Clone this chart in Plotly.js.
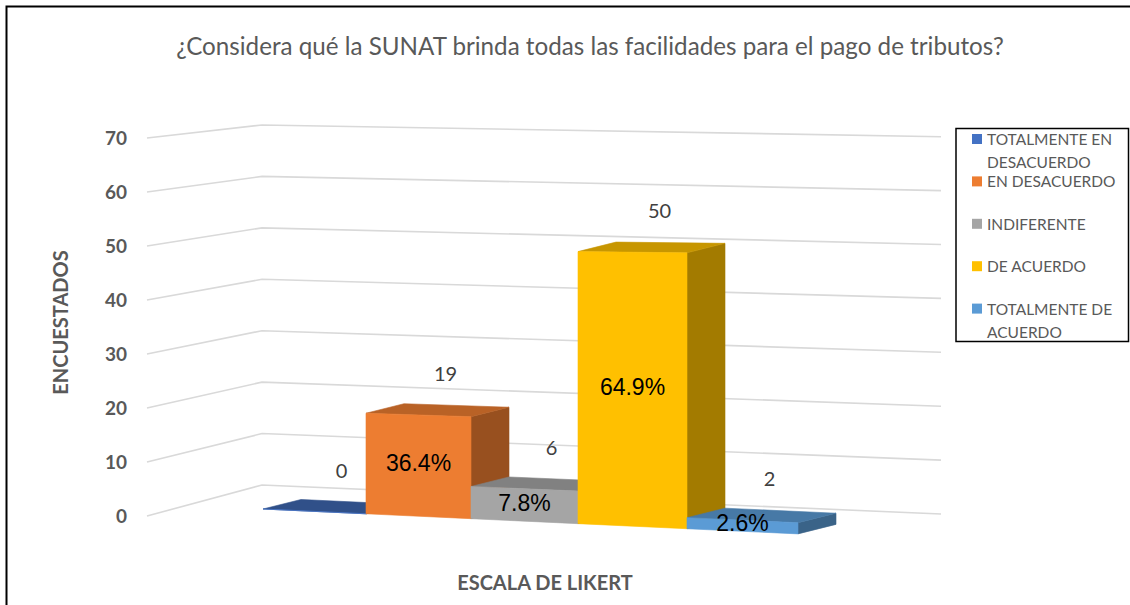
<!DOCTYPE html>
<html>
<head>
<meta charset="utf-8">
<script src="https://cdn.plot.ly/plotly-3.0.1.min.js"></script>
<style>html,body{margin:0;padding:0;background:#fff;}#chart{width:1130px;height:605px;}</style>
</head>
<body>
<div id="chart"></div>
<script>
// ---------------- data ----------------
const chartTitle = '¿Considera qué la SUNAT brinda todas las facilidades para el pago de tributos?';
const categories = ['TOTALMENTE EN DESACUERDO', 'EN DESACUERDO', 'INDIFERENTE', 'DE ACUERDO', 'TOTALMENTE DE ACUERDO'];
const counts = [0, 19, 6, 50, 2];
const percentLabels = ['', '36.4%', '7.8%', '64.9%', '2.6%'];
const yTickValues = [0, 10, 20, 30, 40, 50, 60, 70];
const xTitle = 'ESCALA DE LIKERT';
const yTitle = 'ENCUESTADOS';
const colors = ['#4472C4', '#ED7D31', '#A5A5A5', '#FFC000', '#5B9BD5'];

// ---------------- layout geometry (pixels) ----------------
const W = 1130, H = 605;
const L = 128, R = 962, T = 100, B = 545;
const PXU = 5.396;          // pixels per value unit on the left wall
const ZERO_PX = 516.3;      // pixel row of value 0 on the axis
const yMax = (ZERO_PX - T) / PXU;
const yMin = yMax - (B - T) / PXU;
function toVal(p) { return (ZERO_PX - p) / PXU; }
function fx(x) { return (x - L) / (R - L); }
function fy(y) { return (B - y) / (B - T); }

// oblique 3D projection of the bars
const FX0 = 263, FW = 103, FQ = 1.0, DX = 38, DYPX = 9.5;
function edgeX(u) { return FX0 + FW * u + FQ * u * (u - 1); }
function basePx(x) { return 509 + 0.0465 * (x - 263); }
function scalePx(x) { return 5.33 + (x - 419) * 0.0007; }
function pt(u, v, d) {
  const x0 = edgeX(u);
  const p = basePx(x0) - v * scalePx(x0);
  return [x0 + DX * d, toVal(p - DYPX * d)];
}
function shade(hex, f) {
  const n = parseInt(hex.slice(1), 16);
  const r = Math.round(((n >> 16) & 255) * f), g = Math.round(((n >> 8) & 255) * f), b = Math.round((n & 255) * f);
  return 'rgb(' + r + ',' + g + ',' + b + ')';
}
function poly(points, color) {
  const xs = points.map(p => p[0]); const ys = points.map(p => p[1]);
  xs.push(xs[0]); ys.push(ys[0]);
  return { type: 'scatter', mode: 'lines', x: xs, y: ys, fill: 'toself', fillcolor: color,
           line: { color: color, width: 0.6 }, hoverinfo: 'skip', showlegend: false };
}

const traces = [];

// back / side wall gridlines
const gx = [], gy = [];
yTickValues.forEach(v => {
  gx.push(147, 262, 941, null);
  gy.push(toVal(516 - 5.4 * v), toVal(485 - 5.143 * v), toVal(514 - 5.39 * v), null);
});
traces.push({ type: 'scatter', mode: 'lines', x: gx, y: gy, line: { color: '#D9D9D9', width: 1.6 },
              hoverinfo: 'skip', showlegend: false, connectgaps: false });

// bars (left to right so nearer faces overlap)
counts.forEach((v, i) => {
  const c = colors[i];
  traces.push(poly([pt(i + 1, 0, 0), pt(i + 1, 0, 1), pt(i + 1, v, 1), pt(i + 1, v, 0)], shade(c, 0.64)));
  traces.push(poly([pt(i, v, 0), pt(i + 1, v, 0), pt(i + 1, v, 1), pt(i, v, 1)], shade(c, v === 0 ? 0.7 : 0.78)));
  traces.push(poly([pt(i, 0, 0), pt(i + 1, 0, 0), pt(i + 1, v, 0), pt(i, v, 0)], c));
});

// value labels (counts) above the top faces
const lx = [], ly = [], lt = [];
counts.forEach((v, i) => {
  const q = [pt(i, v, 0), pt(i + 1, v, 0), pt(i + 1, v, 1), pt(i, v, 1)];
  lx.push(q.reduce((s, p) => s + p[0], 0) / 4 + 8);
  ly.push(q.reduce((s, p) => s + p[1], 0) / 4 + 34 / PXU);
  lt.push(String(v));
});
traces.push({ type: 'scatter', mode: 'text', x: lx, y: ly, text: lt, textposition: 'middle center',
              textfont: { family: 'Lato, sans-serif', size: 20, color: '#404040' }, hoverinfo: 'skip', showlegend: false });

// percentage labels in the front faces
const px = [], py = [], ptx = [];
counts.forEach((v, i) => {
  if (!percentLabels[i]) return;
  const a = pt(i, 0, 0), b = pt(i + 1, v, 0), c2 = pt(i + 1, 0, 0), d = pt(i, v, 0);
  px.push((a[0] + b[0] + c2[0] + d[0]) / 4);
  py.push((a[1] + b[1] + c2[1] + d[1]) / 4);
  ptx.push(percentLabels[i]);
});
traces.push({ type: 'scatter', mode: 'text', x: px, y: py, text: ptx, textposition: 'middle center',
              textfont: { family: 'Liberation Sans, Arial, sans-serif', size: 23, color: '#000000' }, hoverinfo: 'skip', showlegend: false });

// ---------------- legend (manual) ----------------
function wrap(s, n) {
  const words = s.split(' '); const lines = []; let cur = '';
  words.forEach(w => { if (cur && (cur + ' ' + w).length > n) { lines.push(cur); cur = w; } else { cur = cur ? cur + ' ' + w : w; } });
  if (cur) lines.push(cur);
  return lines;
}
const shapes = [], annotations = [];
shapes.push({ type: 'rect', xref: 'paper', yref: 'paper', x0: fx(6.5), x1: fx(1140), y0: fy(6.5), y1: fy(620),
              line: { color: '#000', width: 2 }, fillcolor: 'rgba(0,0,0,0)', layer: 'below' });
shapes.push({ type: 'rect', xref: 'paper', yref: 'paper', x0: fx(956), x1: fx(1128.5), y0: fy(128.5), y1: fy(341.5),
              line: { color: '#000', width: 1.5 }, fillcolor: 'rgba(0,0,0,0)' });
const legTop = 139, legStep = 42.4, legLine = 23;
categories.forEach((cat, i) => {
  const yc = legTop + i * legStep;
  shapes.push({ type: 'rect', xref: 'paper', yref: 'paper', x0: fx(972), x1: fx(982), y0: fy(yc - 5), y1: fy(yc + 5),
                line: { width: 0 }, fillcolor: colors[i] });
  const lines = wrap(cat, 14);
  lines.forEach((ln, k) => {
    annotations.push({ xref: 'paper', yref: 'paper', x: fx(985), y: fy(yc + k * legLine), xanchor: 'left', yanchor: 'middle',
                       text: ln, showarrow: false, font: { family: 'Lato, sans-serif', size: 15.5, color: '#595959' } });
  });
});

const layout = {
  width: W, height: H,
  margin: { l: L, r: W - R, t: T, b: H - B, pad: 0 },
  paper_bgcolor: '#ffffff', plot_bgcolor: '#ffffff',
  showlegend: false,
  title: { text: chartTitle, x: 590 / W, xref: 'container', xanchor: 'center', y: 1 - 47 / H, yref: 'container', yanchor: 'middle',
           font: { family: 'Lato, sans-serif', size: 24.2, color: '#595959' } },
  xaxis: { range: [L, R], showgrid: false, zeroline: false, showline: false, showticklabels: false, ticks: '', fixedrange: true,
           title: { text: xTitle, standoff: 30, font: { family: 'Lato, sans-serif', size: 20, color: '#595959', weight: 'bold' } } },
  yaxis: { range: [yMin, yMax], showgrid: false, zeroline: false, showline: false, ticks: '', fixedrange: true,
           tickmode: 'array', tickvals: yTickValues, ticktext: yTickValues.map(String),
           tickfont: { family: 'Lato, sans-serif', size: 19, color: '#595959', weight: 'bold' },
           title: { text: yTitle, standoff: 30, font: { family: 'Lato, sans-serif', size: 20, color: '#595959', weight: 'bold' } } },
  shapes: shapes,
  annotations: annotations
};

Plotly.newPlot('chart', traces, layout, { displayModeBar: false, staticPlot: true });
</script>
</body>
</html>
